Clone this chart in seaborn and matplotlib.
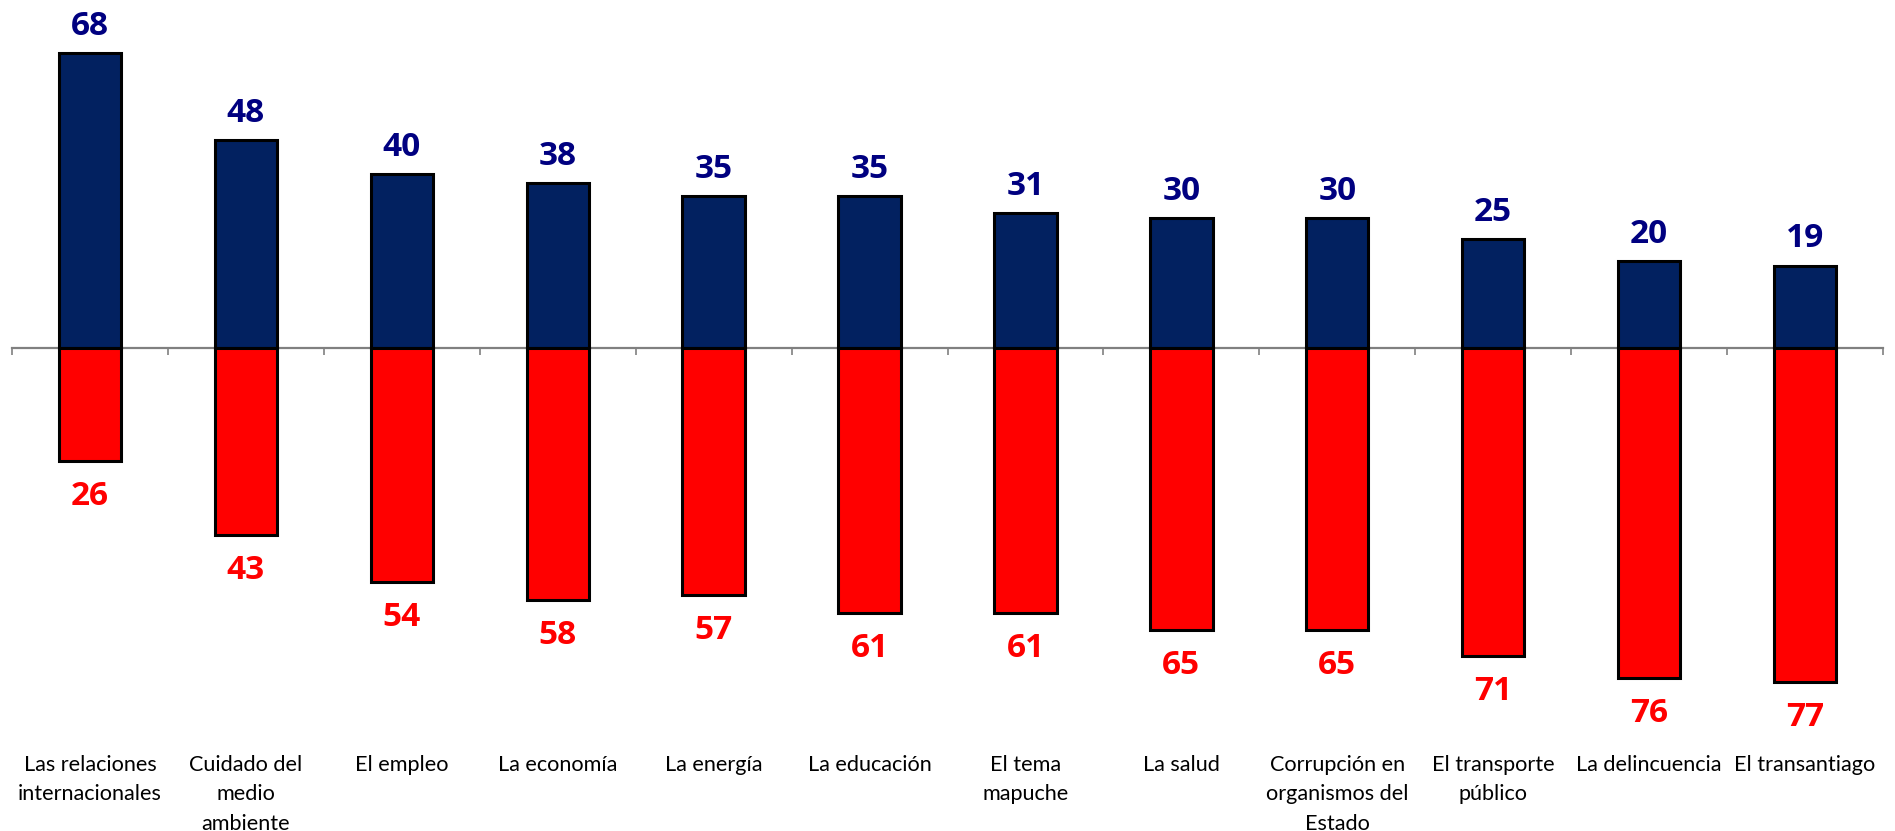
import matplotlib
matplotlib.use("Agg")
import matplotlib.pyplot as plt
import matplotlib.transforms as mtransforms
import seaborn as sns
import pandas as pd
import numpy as np

categorias = [
    "Las relaciones\ninternacionales",
    "Cuidado del\nmedio\nambiente",
    "El empleo",
    "La economía",
    "La energía",
    "La educación",
    "El tema\nmapuche",
    "La salud",
    "Corrupción en\norganismos del\nEstado",
    "El transporte\npúblico",
    "La delincuencia",
    "El transantiago",
]
aprueba = [68, 48, 40, 38, 35, 35, 31, 30, 30, 25, 20, 19]
desaprueba = [26, 43, 54, 58, 57, 61, 61, 65, 65, 71, 76, 77]

AZUL_BARRA = "#022160"
AZUL_TEXTO = "#000080"
ROJO = "#FF0000"

sns.set_theme(style="white")
plt.rcParams["font.family"] = ["DejaVu Sans"]

W, H = 1895, 831
fig = plt.figure(figsize=(W / 100, H / 100), dpi=100)
left_px, right_px = 12, 1883
ax = fig.add_axes([left_px / W, 0, (right_px - left_px) / W, 1])

df = pd.DataFrame({"cat": categorias, "pos": aprueba,
                   "neg": [-v for v in desaprueba]})

sns.barplot(data=df, x="cat", y="pos", color=AZUL_BARRA, saturation=1,
            width=0.4, edgecolor="black", linewidth=2.2, ax=ax)
sns.barplot(data=df, x="cat", y="neg", color=ROJO, saturation=1,
            width=0.4, edgecolor="black", linewidth=2.2, ax=ax)

zero_px = 348
scale = 4.34
ax.set_ylim(-(H - zero_px) / scale, zero_px / scale)
n = len(categorias)
ax.set_xlim(-0.5, n - 0.5)

for s in ["top", "right", "left"]:
    ax.spines[s].set_visible(False)
ax.spines["bottom"].set_position(("data", 0))
ax.spines["bottom"].set_color("#808080")
ax.spines["bottom"].set_linewidth(1.6)
ax.spines["bottom"].set_zorder(0.5)
ax.set_yticks([])
ax.set_xticks(np.arange(n + 1) - 0.5)
ax.set_xticklabels([])
ax.tick_params(axis="x", which="major", direction="out", length=5,
               width=1.2, color="#808080", bottom=True)
ax.set_xlabel("")
ax.set_ylabel("")

num_font = dict(fontsize=24, fontweight="bold",
                family=["Open Sans", "DejaVu Sans"])
for i, (p, q) in enumerate(zip(aprueba, desaprueba)):
    ax.annotate(str(p), (i, p), xytext=(0, 13), textcoords="offset points",
                ha="center", va="baseline", color=AZUL_TEXTO, **num_font)
    ax.annotate(str(q), (i, -q), xytext=(0, -31.7), textcoords="offset points",
                ha="center", va="baseline", color=ROJO, **num_font)

trans = mtransforms.blended_transform_factory(ax.transData, ax.transAxes)
for i, c in enumerate(categorias):
    ax.text(i, 1 - 755 / H, c, transform=trans, ha="center", va="top",
            multialignment="center", fontsize=15.6,
            family=["Lato", "DejaVu Sans"],
            linespacing=1.58, color="black")

fig.savefig("out.png", dpi=100)
